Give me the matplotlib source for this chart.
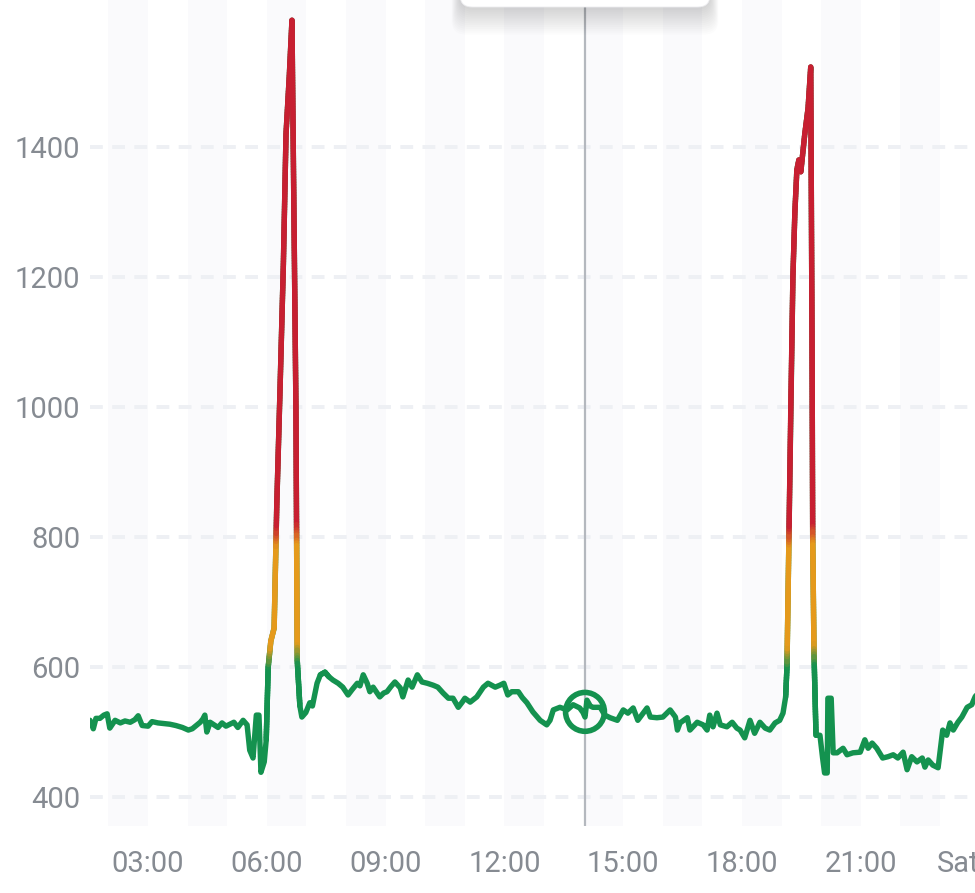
import numpy as np
import matplotlib.pyplot as plt
from matplotlib.collections import LineCollection
from matplotlib.colors import LinearSegmentedColormap, Normalize
from matplotlib.patches import FancyBboxPatch
from matplotlib.transforms import IdentityTransform

plt.rcParams['font.family'] = ['Roboto', 'DejaVu Sans']

# minutes since midnight, CO2 reading (ppm)
minutes = [92, 97, 101, 107, 113, 118, 122, 130, 138, 145, 153, 160, 165, 171,
           180, 186, 195, 204, 213, 222, 232, 241, 247, 253, 259, 263, 266, 269,
           274, 280, 286, 292, 298, 304, 310, 316, 324, 330, 334, 339, 344, 348,
           351, 356, 359, 362, 366, 371, 375, 380, 385, 389, 394, 398, 404,
           406, 410, 413, 419, 425, 429, 436, 441, 448, 454, 460, 468, 475, 483,
           489, 497, 501, 506, 512, 516, 521, 527, 531, 537, 542, 548, 554, 562,
           566, 574, 580, 588, 595, 603, 612, 619, 627, 635, 642, 650, 656, 660,
           668, 678, 688, 695, 706, 713, 719, 725, 731, 741, 747, 754, 763, 774,
           784, 789, 794, 804, 815, 824, 834, 839, 842, 845, 850, 854, 865, 872,
           880, 891, 900, 907, 915, 922, 930, 936, 941, 951, 960, 971, 979, 982,
           986, 997, 1001, 1012, 1021, 1027, 1031, 1036, 1042, 1047, 1057, 1065,
           1072, 1077, 1084, 1092, 1099, 1107, 1115, 1122, 1130, 1137, 1142, 1146,
           1148, 1151, 1154, 1157, 1160, 1163, 1166, 1169, 1175, 1180, 1184, 1186,
           1187, 1189, 1192, 1198, 1202, 1205, 1209, 1210, 1215, 1218, 1224, 1233,
           1239, 1248, 1259, 1266, 1271, 1277, 1284, 1293, 1301, 1309, 1316, 1324,
           1330, 1337, 1345, 1353, 1357, 1362, 1369, 1377, 1384, 1390, 1395, 1400,
           1407, 1413, 1421, 1428, 1433, 1437]
ppm = [518, 505, 521, 521, 526, 528, 506, 518, 514, 517, 515, 519, 525, 510,
       509, 516, 514, 513, 512, 510, 507, 503, 505, 510, 515, 520, 526, 500,
       515, 511, 507, 514, 509, 512, 515, 507, 518, 511, 472, 460, 526, 526,
       438, 454, 488, 600, 640, 660, 850, 1030, 1220, 1420, 1510, 1595, 1000,
       610, 540, 523, 530, 545, 540, 575, 588, 592, 585, 580, 575, 569, 557,
       565, 575, 571, 588, 575, 562, 569, 560, 554, 560, 562, 570, 577, 568,
       554, 580, 569, 588, 577, 575, 572, 569, 560, 552, 552, 538, 546, 552,
       546, 554, 569, 575, 569, 572, 575, 557, 562, 562, 553, 545, 531, 518,
       511, 518, 534, 538, 534, 542, 537, 530, 523, 549, 540, 538, 538, 526,
       522, 518, 534, 529, 537, 518, 529, 537, 523, 522, 523, 534, 523, 503,
       514, 522, 503, 515, 511, 503, 526, 508, 529, 511, 508, 515,
       506, 503, 491, 518, 498, 515, 506, 503, 514, 518, 529, 554,
       600, 800, 1011, 1200, 1300, 1365, 1380, 1362, 1420, 1460, 1523, 1100,
       800, 620, 495, 495, 460, 437, 437, 552, 552, 468, 468, 475,
       465, 468, 469, 488, 475, 483, 475, 460, 462, 465, 460, 469,
       442, 462, 454, 460, 446, 457, 449, 445, 503, 495, 514, 503,
       515, 523, 538, 542, 554, 560]

tick_hours = [3, 6, 9, 12, 15, 18, 21, 24]
tick_labels = ['03:00', '06:00', '09:00', '12:00', '15:00', '18:00', '21:00', 'Sat']
y_ticks = [400, 600, 800, 1000, 1200, 1400]
cursor_minute = 842
cursor_ppm = 531

green = '#14924f'
orange = '#e59a1c'
red = '#c71f31'
label_col = '#868b92'
lw = 3.9

W, H = 975, 893
fig = plt.figure(figsize=(W / 100, H / 100), dpi=100)
# axes runs a little past the right edge, like the scrolled app view
ax = fig.add_axes([90 / W, 67 / H, 910 / W, 826 / H])

hours = np.array(minutes) / 60.0
vals = np.array(ppm, dtype=float)

px_per_h = 39.6
ax.set_xlim(92 / 60, 92 / 60 + 910 / px_per_h)
ax.set_ylim(355.4, 1626.2)

# shaded hour bands
for h in range(2, 26, 2):
    ax.axvspan(h, h + 1, color='#fafafc', lw=0, zorder=0)

ax.set_yticks(y_ticks)
ax.set_xticks(tick_hours)
ax.set_xticklabels(tick_labels)
ax.get_xticklabels()[-1].set_horizontalalignment('right')
ax.grid(axis='y', color='#eef0f4', linewidth=2.8, linestyle=(0, (3.3, 2.4)), zorder=1)
ax.grid(axis='x', visible=False)
for s in ax.spines.values():
    s.set_visible(False)
ax.tick_params(axis='both', length=0, labelsize=21, labelcolor=label_col)
ax.tick_params(axis='y', pad=7)
ax.tick_params(axis='x', pad=17)

# cursor
ax.axvline(cursor_minute / 60, color='#b4b8be', lw=1.6, zorder=2)

# base line in green
ax.plot(hours, vals, color=green, lw=lw, solid_joinstyle='round',
        solid_capstyle='round', zorder=3)

# colour the high parts by value
cmap = LinearSegmentedColormap.from_list('co2', [
    (0.0, green), ((598 - 350) / 1300, green), ((632 - 350) / 1300, orange),
    ((785 - 350) / 1300, orange), ((818 - 350) / 1300, red), (1.0, red)])
norm = Normalize(350, 1650)
segs = []
cvals = []
for i in range(len(hours) - 1):
    if max(vals[i], vals[i + 1]) < 590:
        continue
    n = max(2, int(abs(vals[i + 1] - vals[i]) / 4))
    tt = np.linspace(hours[i], hours[i + 1], n + 1)
    vv = np.linspace(vals[i], vals[i + 1], n + 1)
    for k in range(n):
        segs.append([(tt[k], vv[k]), (tt[k + 1], vv[k + 1])])
        cvals.append((vv[k] + vv[k + 1]) / 2)
lc = LineCollection(segs, cmap=cmap, norm=norm, linewidths=lw,
                    capstyle='round', zorder=4)
lc.set_array(np.array(cvals))
ax.add_collection(lc)

ax.scatter([cursor_minute / 60], [cursor_ppm], s=28 ** 2, facecolors='none',
           edgecolors=green, linewidths=4, zorder=5)

# tooltip box at the top, mostly off screen
for i in range(14, 0, -1):
    sh = FancyBboxPatch((460 - i * 0.6, H - 8 - i * 1.9), 250 + i * 1.2, 60,
                        boxstyle='round,pad=0,rounding_size=14',
                        transform=IdentityTransform(), fc='#000000',
                        ec='none', alpha=0.011, zorder=10)
    fig.patches.append(sh)
tip = FancyBboxPatch((460, H - 7), 250, 60, boxstyle='round,pad=0,rounding_size=12',
                     transform=IdentityTransform(), fc='white', ec='#ececef',
                     lw=0.6, zorder=11)
fig.patches.append(tip)

fig.savefig('out.png', dpi=100)
